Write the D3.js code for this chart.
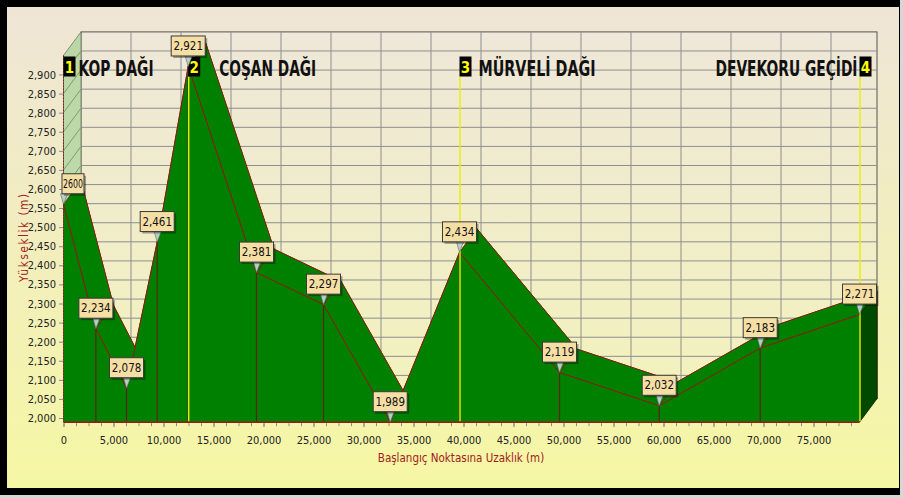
<!DOCTYPE html>
<html>
<head>
<meta charset="utf-8">
<script src="https://cdn.jsdelivr.net/npm/d3@7"></script>
<style>
  html, body { margin: 0; padding: 0; background: #ffffff; }
  svg { display: block; }
</style>
</head>
<body>
<div id="page"></div>
<script>
(function() {

  "use strict";

  /* * * * * * * * * * * * * * * * * * * */
  // data

  var distances = [ 0, 3240, 6300, 9370, 12470, 19300, 26000, 32670, 39600, 49600, 59570, 69670, 79600 ];
  var elevations = [ 2560, 2234, 2078, 2461, 2921, 2381, 2297, 1989, 2434, 2119, 2032, 2183, 2271 ];
  var elevationLabels = [ "2600", "2,234", "2,078", "2,461", "2,921", "2,381", "2,297", "1,989", "2,434", "2,119", "2,032", "2,183", "2,271" ];

  var placeNumbers = [ "1", "2", "3", "4" ];
  var placeNames = [ "KOP DAĞI", "COŞAN DAĞI", "MÜRVELİ DAĞI", "DEVEKORU GEÇİDİ" ];
  var placeDistances = [ 0, 12470, 39600, 79600 ];

  var yTickValues = d3.range( 2000, 2901, 50 );
  var xTickValues = d3.range( 0, 75001, 5000 );
  var xMinorTicks = d3.range( 0, 79601, 1250 );

  var yTitle = "Yükseklik (m)";
  var xTitle = "Başlangıç Noktasına Uzaklık (m)";

  /* * * * * * * * * * * * * * * * * * * */
  // layout

  var W = 903,
    H = 498,
    DX = 17.5,
    DY = -23.5,
    narrow = "'Liberation Sans Narrow', 'Arial Narrow', 'DejaVu Sans Condensed', sans-serif";

  // text placement next to each numbered box
  var nameDx = [ 3, 19, 7, -2 ],
    nameAnchor = [ "start", "start", "start", "end" ],
    nameWidth = [ 75, 97, 117, 142 ];

  var x = d3.scaleLinear().domain( [ 0, 79600 ] ).range( [ 63.5, 859.5 ] );
  var y = d3.scaleLinear().domain( [ 1989, 2950 ] ).range( [ 422.2, 55.4 ] );

  var fmt = d3.format( "," );

  var points = distances.map( function( d, i ) {
    return { dist: d, elev: elevations[ i ], label: elevationLabels[ i ] };
  });

  var x0 = x.range()[0], x1 = x.range()[1],
    yBase = y.range()[0], yTop = y.range()[1];

  var svg = d3.select( "#page" ).append( "svg" )
    .attr( "width", W )
    .attr( "height", H );

  var defs = svg.append( "defs" );

  function vGradient( id, top, bottom ) {
    var g = defs.append( "linearGradient" )
      .attr( "id", id )
      .attr( "x1", "0%" ).attr( "y1", "0%" )
      .attr( "x2", "0%" ).attr( "y2", "100%" );
    g.append( "stop" ).attr( "offset", "0%" ).attr( "stop-color", top );
    g.append( "stop" ).attr( "offset", "100%" ).attr( "stop-color", bottom );
  }

  vGradient( "bg", "#efe5d6", "#f6f7a4" );
  vGradient( "wall", "#efe7d8", "#f3f2bc" );
  vGradient( "side", "#b9d6a6", "#c9e0b0" );

  /* * * * * * * * * * * * * * * * * * * */
  // frame + background

  svg.append( "rect" )
    .attr( "width", W ).attr( "height", H )
    .attr( "fill", "#d6d6d6" );

  svg.append( "rect" )
    .attr( "width", 900 ).attr( "height", 495 )
    .attr( "fill", "#000" );

  svg.append( "rect" )
    .attr( "x", 7 ).attr( "y", 7 )
    .attr( "width", 892 ).attr( "height", 481 )
    .attr( "fill", "url(#bg)" );

  /* * * * * * * * * * * * * * * * * * * */
  // back wall, left wall and grid

  svg.append( "rect" )
    .attr( "x", x0 + DX ).attr( "y", yTop + DY )
    .attr( "width", x1 - x0 ).attr( "height", yBase - yTop )
    .attr( "fill", "url(#wall)" )
    .attr( "stroke", "#555" )
    .attr( "stroke-width", 1 );

  svg.append( "polygon" )
    .attr( "points", [ [ x0, yTop ], [ x0 + DX, yTop + DY ], [ x0 + DX, yBase + DY ], [ x0, yBase ] ].join( " " ) )
    .attr( "fill", "url(#side)" )
    .attr( "stroke", "#6a7a60" )
    .attr( "stroke-width", 0.8 );

  var grid = svg.append( "g" )
    .attr( "stroke", "#8e8e8e" )
    .attr( "stroke-width", 1 );

  grid.selectAll( ".hgrid" )
    .data( yTickValues )
    .enter().append( "line" )
    .attr( "class", "hgrid" )
    .attr( "x1", x0 + DX ).attr( "x2", x1 + DX )
    .attr( "y1", function( d ) { return y( d ) + DY; } )
    .attr( "y2", function( d ) { return y( d ) + DY; } );

  grid.selectAll( ".dgrid" )
    .data( yTickValues )
    .enter().append( "line" )
    .attr( "class", "dgrid" )
    .attr( "stroke", "#7f9a70" )
    .attr( "x1", x0 ).attr( "x2", x0 + DX )
    .attr( "y1", function( d ) { return y( d ); } )
    .attr( "y2", function( d ) { return y( d ) + DY; } );

  grid.selectAll( ".vgrid" )
    .data( xTickValues.slice( 1 ) )
    .enter().append( "line" )
    .attr( "class", "vgrid" )
    .attr( "x1", function( d ) { return x( d ) + DX; } )
    .attr( "x2", function( d ) { return x( d ) + DX; } )
    .attr( "y1", yTop + DY ).attr( "y2", yBase + DY );

  /* * * * * * * * * * * * * * * * * * * */
  // 3d area

  var green = "#008000",
    edge = "#8a1c14";

  var area = d3.area()
    .x( function( d ) { return x( d.dist ); } )
    .y0( yBase )
    .y1( function( d ) { return y( d.elev ); } );

  var profile = d3.line()
    .x( function( d ) { return x( d.dist ); } )
    .y( function( d ) { return y( d.elev ); } );

  // back face
  svg.append( "path" )
    .datum( points )
    .attr( "transform", "translate(" + DX + "," + DY + ")" )
    .attr( "d", area )
    .attr( "fill", green )
    .attr( "stroke", edge )
    .attr( "stroke-width", 1 );

  // top strips between front and back profile
  var strips = d3.pairs( points );

  svg.selectAll( ".strip" )
    .data( strips )
    .enter().append( "polygon" )
    .attr( "class", "strip" )
    .attr( "points", function( p ) {
      var a = [ x( p[0].dist ), y( p[0].elev ) ],
        b = [ x( p[1].dist ), y( p[1].elev ) ];
      return [ a, b, [ b[0] + DX, b[1] + DY ], [ a[0] + DX, a[1] + DY ] ].join( " " );
    })
    .attr( "fill", green )
    .attr( "stroke", edge )
    .attr( "stroke-width", 0.8 )
    .attr( "stroke-linejoin", "round" );

  // right end face
  var last = points[ points.length - 1 ],
    lx = x( last.dist ),
    ly = y( last.elev );

  svg.append( "polygon" )
    .attr( "points", [ [ lx, ly ], [ lx + DX, ly + DY ], [ lx + DX, yBase + DY ], [ lx, yBase ] ].join( " " ) )
    .attr( "fill", "#004a00" )
    .attr( "stroke", "#003000" )
    .attr( "stroke-width", 0.8 );

  // front face
  svg.append( "path" )
    .datum( points )
    .attr( "d", area )
    .attr( "fill", green );

  svg.selectAll( ".drop" )
    .data( points.slice( 1, -1 ) )
    .enter().append( "line" )
    .attr( "class", "drop" )
    .attr( "x1", function( d ) { return x( d.dist ); } )
    .attr( "x2", function( d ) { return x( d.dist ); } )
    .attr( "y1", function( d ) { return y( d.elev ); } )
    .attr( "y2", yBase )
    .attr( "stroke", "#5e2410" )
    .attr( "stroke-width", 1.2 );

  svg.append( "path" )
    .datum( points )
    .attr( "d", profile )
    .attr( "fill", "none" )
    .attr( "stroke", edge )
    .attr( "stroke-width", 1 );

  svg.append( "line" )
    .attr( "x1", x0 ).attr( "x2", x1 )
    .attr( "y1", yBase ).attr( "y2", yBase )
    .attr( "stroke", "#a01818" )
    .attr( "stroke-width", 1.5 );

  svg.append( "line" )
    .attr( "x1", x0 ).attr( "x2", x0 )
    .attr( "y1", yTop ).attr( "y2", yBase )
    .attr( "stroke", "#7a1a1a" )
    .attr( "stroke-width", 1 )
    .attr( "stroke-dasharray", "2,1" );

  /* * * * * * * * * * * * * * * * * * * */
  // place markers

  var markerTop = 56.5;

  svg.selectAll( ".mline" )
    .data( placeDistances.slice( 1 ) )
    .enter().append( "line" )
    .attr( "class", "mline" )
    .attr( "x1", function( d ) { return x( d ) + 0.5; } )
    .attr( "x2", function( d ) { return x( d ) + 0.5; } )
    .attr( "y1", markerTop + 20 ).attr( "y2", yBase - 1 )
    .attr( "stroke", "#e8f000" )
    .attr( "stroke-width", 1.4 );

  var markers = svg.selectAll( ".marker" )
    .data( placeDistances )
    .enter().append( "g" )
    .attr( "class", "marker" )
    .attr( "transform", function( d ) { return "translate(" + x( d ) + "," + markerTop + ")"; } );

  markers.append( "rect" )
    .attr( "width", 12 ).attr( "height", 20 )
    .attr( "fill", "#000" );

  markers.append( "text" )
    .attr( "x", 6 ).attr( "y", 16 )
    .attr( "text-anchor", "middle" )
    .attr( "font-family", narrow )
    .attr( "font-weight", "bold" )
    .attr( "font-size", 15 )
    .attr( "fill", "#ffff00" )
    .text( function( d, i ) { return placeNumbers[ i ]; } );

  markers.append( "text" )
    .attr( "x", function( d, i ) { return nameAnchor[ i ] === "end" ? nameDx[ i ] : 12 + nameDx[ i ]; } )
    .attr( "y", 19.2 )
    .attr( "text-anchor", function( d, i ) { return nameAnchor[ i ]; } )
    .attr( "font-family", narrow )
    .attr( "font-weight", "bold" )
    .attr( "font-size", 22 )
    .attr( "fill", "#111" )
    .attr( "textLength", function( d, i ) { return nameWidth[ i ]; } )
    .attr( "lengthAdjust", "spacingAndGlyphs" )
    .text( function( d, i ) { return placeNames[ i ]; } );

  /* * * * * * * * * * * * * * * * * * * */
  // axes

  var yAxis = svg.append( "g" )
    .attr( "transform", "translate(" + ( x0 - 0.5 ) + ",0)" )
    .call( d3.axisLeft( y ).tickValues( yTickValues ).tickFormat( fmt ).tickSize( 4 ).tickPadding( 3 ) );

  var xAxis = svg.append( "g" )
    .attr( "transform", "translate(0," + ( yBase + 1 ) + ")" )
    .call( d3.axisBottom( x ).tickValues( xTickValues ).tickFormat( fmt ).tickSize( 4 ).tickPadding( 9 ) );

  var xMinor = svg.append( "g" )
    .attr( "transform", "translate(0," + ( yBase + 1 ) + ")" )
    .call( d3.axisBottom( x ).tickValues( xMinorTicks ).tickFormat( "" ).tickSize( 3 ) );

  [ yAxis, xAxis, xMinor ].forEach( function( g ) {
    g.select( ".domain" ).remove();
    g.selectAll( ".tick line" ).attr( "stroke", "#8a8a8a" );
    g.selectAll( ".tick text" )
      .attr( "fill", "#222" )
      .attr( "font-family", narrow )
      .attr( "font-size", 11 );
  });

  svg.append( "text" )
    .attr( "x", 461 ).attr( "y", 462 )
    .attr( "text-anchor", "middle" )
    .attr( "font-family", narrow )
    .attr( "font-size", 11.5 )
    .attr( "fill", "#a3201a" )
    .text( xTitle );

  svg.append( "text" )
    .attr( "transform", "translate(28,238) rotate(-90)" )
    .attr( "text-anchor", "middle" )
    .attr( "font-family", narrow )
    .attr( "font-size", 11.5 )
    .attr( "fill", "#a3201a" )
    .attr( "textLength", 88 )
    .attr( "lengthAdjust", "spacing" )
    .text( yTitle );

  /* * * * * * * * * * * * * * * * * * * */
  // value callouts

  var boxW = 34, boxH = 20, boxGap = 10.5;

  var callouts = svg.selectAll( ".callout" )
    .data( points )
    .enter().append( "g" )
    .attr( "class", "callout" );

  function boxWidth( d ) {
    return d.label.indexOf( "," ) < 0 ? 22 : boxW;
  }

  function boxLeft( d ) {
    return Math.max( 62, x( d.dist ) - boxWidth( d ) / 2 );
  }

  callouts.append( "polygon" )
    .attr( "points", function( d ) {
      var px = x( d.dist ), py = y( d.elev ), b = py - boxGap;
      return [ [ px - 3, b ], [ px + 4, b ], [ px, py ] ].join( " " );
    })
    .attr( "fill", "#b9cfc6" )
    .attr( "stroke", "#5a6a66" )
    .attr( "stroke-width", 0.6 );

  callouts.append( "rect" )
    .attr( "x", function( d ) { return boxLeft( d ) + 2; } )
    .attr( "y", function( d ) { return y( d.elev ) - boxGap - boxH + 2; } )
    .attr( "width", boxWidth ).attr( "height", boxH )
    .attr( "fill", "rgba(0,0,0,0.35)" );

  callouts.append( "rect" )
    .attr( "x", boxLeft )
    .attr( "y", function( d ) { return y( d.elev ) - boxGap - boxH; } )
    .attr( "width", boxWidth ).attr( "height", boxH )
    .attr( "fill", "#f6dfa4" )
    .attr( "stroke", "#3a3a3a" )
    .attr( "stroke-width", 1 );

  callouts.append( "text" )
    .attr( "x", function( d ) { return boxLeft( d ) + boxWidth( d ) / 2; } )
    .attr( "y", function( d ) { return y( d.elev ) - boxGap - 6; } )
    .attr( "text-anchor", "middle" )
    .attr( "font-family", narrow )
    .attr( "font-size", 11.5 )
    .attr( "fill", "#111" )
    .attr( "textLength", function( d ) { return d.label.indexOf( "," ) < 0 ? 20 : null; } )
    .attr( "lengthAdjust", "spacingAndGlyphs" )
    .text( function( d ) { return d.label; } );

})();
</script>
</body>
</html>
